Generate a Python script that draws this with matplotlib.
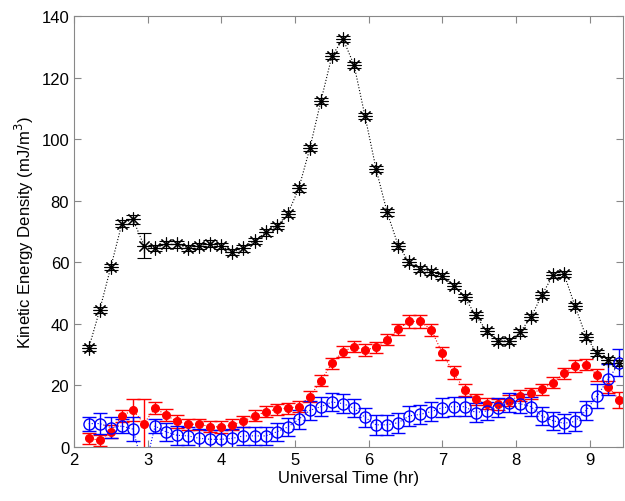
import numpy as np
import matplotlib
matplotlib.use("Agg")
import matplotlib.pyplot as plt

plt.rcParams['font.family'] = ['Liberation Sans', 'DejaVu Sans']

# universal time (hr), 9-minute cadence
ut = np.arange(49) * 0.15 + 2.2

# black: total
ke_total = [32.1, 44.6, 58.5, 72.6, 74.0, 65.4, 64.6, 65.8, 65.8, 64.7,
            65.4, 66.1, 65.2, 63.4, 64.5, 67.0, 69.7, 71.7, 75.7, 84.0,
            97.0, 112.4, 127.0, 132.6, 124.1, 107.4, 90.2, 76.2, 65.4, 60.0,
            57.8, 56.9, 55.6, 52.4, 48.6, 42.8, 37.7, 34.5, 34.5, 37.2,
            42.1, 49.4, 55.8, 56.2, 45.7, 35.8, 30.4, 28.3, 27.4]
err_total = [1.0, 1.0, 1.0, 1.0, 1.5, 4.0, 1.0, 1.0, 1.0, 1.0,
             1.0, 1.0, 1.0, 1.0, 1.0, 1.0, 1.0, 1.0, 1.0, 1.0,
             1.0, 1.0, 1.0, 1.0, 1.0, 1.0, 1.0, 1.0, 1.0, 1.0,
             1.0, 1.0, 1.0, 1.0, 1.0, 1.0, 1.0, 1.0, 1.0, 1.0,
             1.0, 1.0, 1.0, 1.0, 1.0, 1.0, 1.0, 1.0, 1.0]

# red: filled circles
ke_red = [2.8, 2.2, 5.0, 10.1, 12.0, 7.6, 12.7, 10.3, 8.3, 7.4,
          7.4, 6.6, 6.5, 7.2, 8.4, 10.1, 11.4, 12.3, 12.6, 13.1,
          16.4, 21.5, 27.2, 31.0, 32.6, 31.5, 32.4, 34.8, 38.3, 40.8,
          40.8, 38.0, 30.4, 24.2, 18.5, 15.5, 14.1, 13.9, 15.0, 16.6,
          17.4, 18.8, 20.9, 24.0, 26.3, 26.7, 23.4, 19.6, 15.3]
err_red = [1.8, 1.8, 2.0, 2.0, 3.5, 8.0, 2.0, 2.0, 2.0, 1.8,
           1.8, 1.8, 1.8, 1.8, 1.8, 1.8, 1.8, 1.8, 1.8, 1.8,
           1.8, 1.8, 1.8, 1.8, 1.8, 1.8, 1.8, 1.8, 1.8, 2.0,
           2.0, 2.0, 2.0, 2.0, 2.0, 1.8, 1.8, 1.8, 1.8, 1.8,
           1.8, 1.8, 1.8, 1.8, 1.8, 1.8, 2.0, 2.0, 2.5]

# blue: open circles
ke_blue = [7.6, 7.6, 6.3, 6.8, 5.8, -8.0, 6.8, 4.9, 3.8, 3.6,
           2.8, 2.5, 2.5, 2.8, 3.6, 3.6, 3.6, 4.9, 6.5, 9.0,
           11.9, 13.1, 14.6, 14.1, 12.6, 9.6, 7.2, 7.2, 7.9, 10.1,
           10.6, 11.5, 12.8, 13.1, 13.1, 11.2, 11.7, 12.8, 14.4, 14.1,
           13.1, 10.1, 8.5, 7.7, 8.3, 11.9, 16.6, 22.0, 27.4]
err_blue = [2.3, 3.5, 3.5, 2.4, 3.9, 3.0, 2.2, 3.0, 3.0, 3.0,
            3.0, 3.0, 3.0, 3.0, 3.0, 3.0, 3.0, 3.0, 3.0, 3.0,
            3.0, 3.0, 3.0, 3.0, 3.0, 3.2, 3.2, 3.2, 3.2, 3.2,
            3.2, 3.0, 3.0, 3.0, 3.0, 3.0, 3.0, 3.0, 3.0, 3.0,
            3.0, 3.0, 3.0, 3.0, 3.0, 3.0, 4.0, 5.0, 4.5]

fig = plt.figure(figsize=(6.25, 5.02), dpi=100)
ax = fig.add_axes([0.1184, 0.1076, 0.8784, 0.8584])

ax.errorbar(ut, ke_total, yerr=err_total, color='k', ls=':', lw=0.8,
            marker=(8, 2, 0), ms=10, mew=0.8, capsize=5, elinewidth=0.9)
ax.errorbar(ut, ke_red, yerr=err_red, color='red', ls=':', lw=0.8,
            marker='o', ms=5.5, mfc='red', mec='red', capsize=5, elinewidth=1.0)
ax.errorbar(ut, ke_blue, yerr=err_blue, color='blue', ls=':', lw=0.8,
            marker='o', ms=8, mfc='none', mec='blue', mew=1.0, capsize=5,
            elinewidth=1.0)

ax.set_xlim(2, 9.45)
ax.set_ylim(0, 140)
ax.set_xticks(range(2, 10))
ax.set_yticks(range(0, 141, 20))
ax.tick_params(direction='in', top=True, right=True, labelsize=12, length=5,
               color='#888888')
for s in ax.spines.values():
    s.set_color('#888888')
ax.set_xlabel("Universal Time (hr)", fontsize=12, labelpad=2)
ax.set_ylabel("Kinetic Energy Density (mJ/m$^3$)", fontsize=12, labelpad=4)

plt.savefig("out.png", dpi=100)
